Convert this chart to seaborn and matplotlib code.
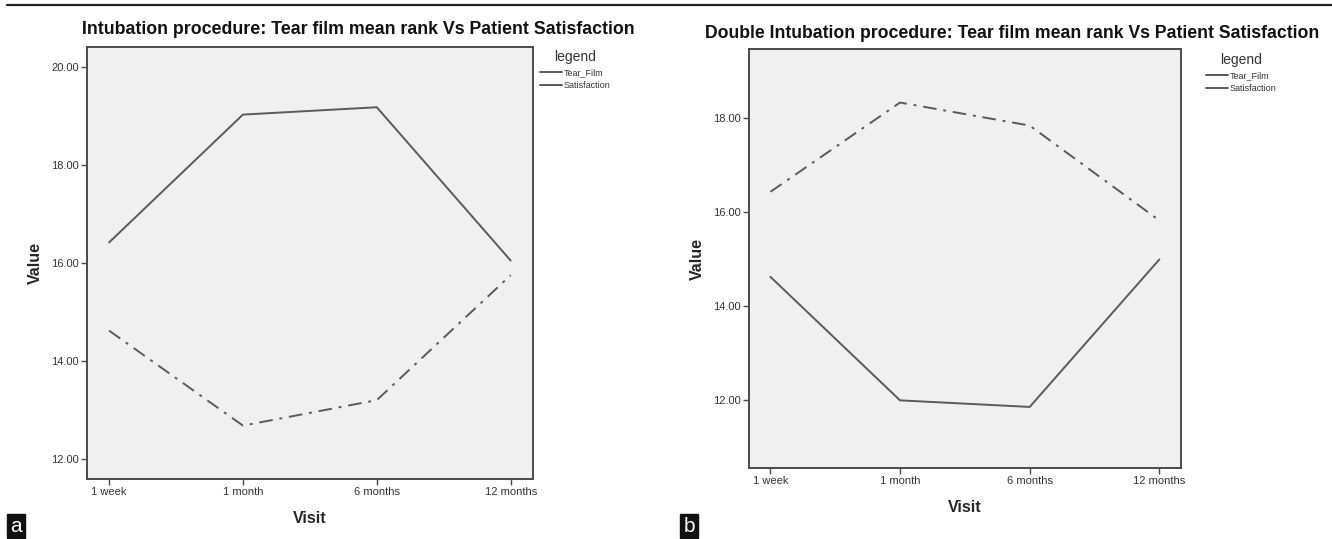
import pandas as pd
import matplotlib
matplotlib.use("Agg")
import matplotlib.pyplot as plt
import seaborn as sns
from matplotlib.lines import Line2D
from matplotlib.patches import Rectangle
from matplotlib.ticker import StrMethodFormatter

# Valeurs
visites = ["1 week", "1 month", "6 months", "12 months"]

tear_a = [16.42, 19.03, 19.18, 16.05]
satis_a = [14.62, 12.68, 13.20, 15.75]

tear_b = [14.62, 11.99, 11.85, 14.99]
satis_b = [16.43, 18.33, 17.84, 15.82]

titre_a = "Intubation procedure: Tear film mean rank Vs Patient Satisfaction"
titre_b = "Double Intubation procedure: Tear film mean rank Vs Patient Satisfaction"
series = ["Tear_Film", "Satisfaction"]


def tableau_long(tear, satis):
    df = pd.DataFrame({"Visit": visites * 2,
                       "Value": tear + satis,
                       "legend": [series[0]] * 4 + [series[1]] * 4})
    df["pos"] = [0, 1, 2, 3] * 2
    return df


sns.set_style("white")
plt.rcParams["font.family"] = ["Liberation Sans", "DejaVu Sans"]

gris_ligne = "#5a5a5a"
gris_cadre = "#4a4a4a"
fond = "#f0f0f0"

fig = plt.figure(figsize=(13.32, 5.39), dpi=100)
W, H = 1332, 539


def px_axes(x0, y0, x1, y1):
    return fig.add_axes([x0 / W, 1 - y1 / H, (x1 - x0) / W, (y1 - y0) / H])


ax_a = px_axes(87, 47, 533, 479)
ax_b = px_axes(749, 49, 1181, 468)

panneaux = [
    (ax_a, tableau_long(tear_a, satis_a), (11.59, 20.41), [12, 14, 16, 18, 20]),
    (ax_b, tableau_long(tear_b, satis_b), (10.55, 19.47), [12, 14, 16, 18]),
]

for ax, df, ylim, yticks in panneaux:
    sns.lineplot(data=df, x="pos", y="Value", style="legend",
                 dashes={"Tear_Film": "", "Satisfaction": (7, 3.5, 1.5, 3.5)},
                 color=gris_ligne, linewidth=1.4, ax=ax, legend=False)
    ax.set_facecolor(fond)
    ax.set_xlim(-0.165, 3.167)
    ax.set_ylim(*ylim)
    ax.set_xticks([0, 1, 2, 3])
    ax.set_xticklabels(visites)
    ax.set_yticks(yticks)
    ax.yaxis.set_major_formatter(StrMethodFormatter("{x:.2f}"))
    ax.tick_params(axis="both", direction="out", length=4, width=1,
                   color=gris_cadre, labelsize=8, labelcolor="#333333",
                   left=True, bottom=True, pad=2)
    for s in ax.spines.values():
        s.set_color(gris_cadre)
        s.set_linewidth(1.4)
    ax.set_xlabel("Visit", fontsize=11.5, fontweight="bold", labelpad=10)
    ax.set_ylabel("Value", fontsize=11.5, fontweight="bold", labelpad=6)

# Titres
fig.text(358 / W, 1 - 30 / H, titre_a, ha="center", va="center",
         fontsize=12.8, fontweight="bold", color="#111111")
fig.text(1012 / W, 1 - 33 / H, titre_b, ha="center", va="center",
         fontsize=12.7, fontweight="bold", color="#111111")

# Légendes (comme dans SPSS : deux traits pleins)
poignees = [Line2D([], [], color=gris_ligne, lw=1.4),
            Line2D([], [], color=gris_ligne, lw=1.4)]
for ax, (x, y) in [(ax_a, (534, 44)), (ax_b, (1200, 47))]:
    leg = ax.legend(poignees, series, title="legend", frameon=False,
                    loc="upper left", bbox_to_anchor=(x / W, 1 - y / H),
                    bbox_transform=fig.transFigure, fontsize=6.5,
                    title_fontsize=10, handlelength=2.4, handletextpad=0.2,
                    labelspacing=0.45, borderpad=0.2)
    for t in leg.get_texts():
        t.set_color("#333333")
    leg.get_title().set_color("#333333")

# Trait horizontal en haut
fig.add_artist(Line2D([7 / W, 1], [1 - 5 / H, 1 - 5 / H], color="#222222",
                      lw=1.6, transform=fig.transFigure))

# Étiquettes a / b
for lettre, x0 in [("a", 7), ("b", 680)]:
    fig.add_artist(Rectangle((x0 / W, 1 - 538 / H), 18 / W, 24 / H,
                             transform=fig.transFigure, color="#111111"))
    fig.text((x0 + 9) / W, 1 - 527 / H, lettre, ha="center", va="center",
             fontsize=15, color="white")

fig.savefig("out.png", dpi=100, facecolor="white")
